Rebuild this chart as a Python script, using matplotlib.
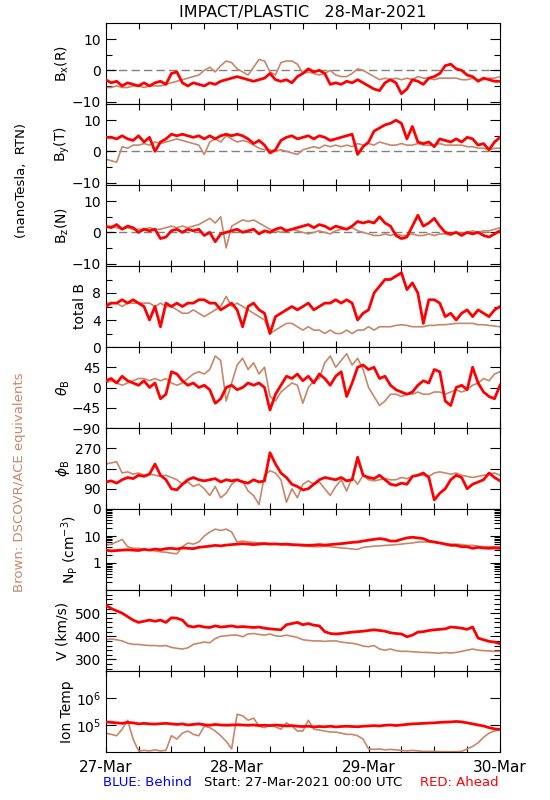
import numpy as np
import matplotlib.pyplot as plt
from matplotlib import ticker

# hourly samples, 27-Mar-2021 00:00 UTC to 30-Mar 00:00 UTC
hours = np.arange(73)
day_labels = ['27-Mar', '28-Mar', '29-Mar', '30-Mar']

# ---- B field components (nT), red = STEREO Ahead, brown = DSCOVR/ACE ----
bx_red = [-3, -4, -3.5, -5, -4, -4.5, -5, -4, -5, -4, -3.5, -4.5, -1, -0.5, -4, -5, -4, -4.5, -5, -4,
          -4.5, -3.5, -3, -2.5, -2, -2.5, -3, -3.5, -3, -2.5, -1, -3, -3.5, -3, -4, -2, -1, 0.5, -0.5, 0,
          -1, -4.5, -4, -4.5, -3.5, -4, -3, -4, -5, -6, -6.5, -4, -3, -4, -7.5, -6, -3, -3.5, -4.5, -2.5,
          -2, -1, 1.5, 2, 0.5, 0, -1.5, -2, -3.5, -2.5, -3, -3.5, -3.5]
bx_brown = [-5.5, -5.5, -5, -5.5, -5.5, -5, -5, -5.5, -5, -5, -5, -4.5, -4, -3.5, -3, -2.5, -2, -1.5, 0, 1,
            -0.5, 1.5, 3, 2.5, 0.5, -0.5, -1.5, 1, 3.5, 3, -0.5, -1.5, 2.5, 3, 3, 2, -1, -0.5, -1, -1.5,
            -1, 0, -1.5, -2, -2, -1, 0.5, 0, -1, -2, -3, -2.5, -3, -2.5, -3, -2.5, -3, -2, -2.5, -2.5,
            -3, -2.5, -2.5, -2.5, -2.5, -3, -3, -2.5, -3, -3, -2.5, -2.5, -2]

by_red = [4.5, 4.5, 4, 5, 4, 3.5, 5, 3, 4.5, 0, 3, 4, 5.5, 5, 5.5, 5, 4.5, 5, 4, 5,
          4, 5, 5.5, 5, 5.5, 5, 4, 2.5, 3.5, 2, -0.5, 0.5, 3.5, 4.5, 5, 4, 4.5, 5, 4, 5,
          4.5, 3.5, 4, 4.5, 5, 5.5, -1, 1.5, 3, 6.5, 7.5, 8.5, 9, 10, 9, 4, 8, 3, 2.5, 3,
          1.5, 4, 3.5, 3, 4, 3, 4.5, 4, 2, 2.5, 0.5, 3, 4.5]
by_brown = [-2.5, -3, -3.5, 1.5, 1, 2, 2, 2.5, 2, 3, 2.5, 3, 3.5, 4, 3.5, 3, 2.5, 2, -1, 3,
            4, 3, 5, 4, 3, 3.5, 3, 2, 1, 0.5, 0.5, 0, 0.5, 0, -0.5, -1, 0.5, 1, 1.5, 1,
            2, 1.5, 2, 1.5, 2, 1.5, 2.5, 2, 2.5, 2, 3, 2.5, 2, 2, 2.5, 2, 2, 2.5, 2, 2,
            2, 2.5, 2, 2, 2, 2, 1.5, 1.5, 1, 1, 0.5, 1, 1]

bz_red = [2, 1.5, 2.5, 1, 2, 1.5, 0, 1, 0.5, 1, -2, -1.5, 0.5, 1, 0, 1, 0.5, 1, -1, 0,
          -3, -0.5, 0, 0.5, 1, 0, 0.5, 1, -0.5, 0.5, 0, 1, 1.5, 0.5, 1, 1.5, 2, 2.5, 1.5, 2.5,
          2, 1, 2, 1.5, 1, 2, 3.5, 3, 3.5, 3, 5, 3, 2, -1, -2, -1.5, 2, 5.5, 2, 3,
          4.5, 2, 0, -0.5, 0, -1, 0, -0.5, 0, -1, -1.5, -0.5, 0.5]
bz_brown = [1.5, 2, 1.5, 1, 1.5, 1, 1, 1, 1.5, 1, 1, 1.5, 2, 1.5, 2, 1.5, 2, 2.5, 3.5, 4.5,
            3, 5, -5, 2, 3, 4, 3.5, 4, 3, 2, 1, 0.5, 0, 0.5, 1, 0.5, 0, -0.5, 0, 0.5,
            0, -0.5, 0.5, 1, 1, 1.5, 0.5, 0, -0.5, -1, -1, -0.5, -1, -0.5, -1, -1, -0.5, -1, -1, -0.5,
            -1, -0.5, -0.5, -1, 0, -0.5, 0, 0.5, 0, 0.5, 0.5, 1, 1.5]

btot_red = [6, 6.5, 6.5, 7, 6.5, 7, 6.5, 6, 4, 6, 3, 6.5, 6, 6.5, 6, 6.5, 6.5, 7, 7, 6.5,
            6.5, 5.5, 6, 6.5, 5.5, 3, 6, 6.5, 5.5, 5, 2, 4.5, 5, 5.5, 6, 5.5, 6, 6.5, 5.5, 6,
            6.5, 6.5, 7, 6.5, 7, 6.5, 4, 5, 5.5, 8, 9, 10, 10, 10.5, 11, 8.5, 9.5, 8, 3.5, 7,
            7, 6.5, 4.5, 5, 4, 5, 5.5, 4.5, 5.5, 5, 4.5, 5.5, 6]
btot_brown = [6.5, 6.5, 6.5, 6, 6.5, 6.5, 6.5, 6.5, 6.5, 6, 6.5, 6, 6, 5.5, 5, 5, 5.5, 5, 4.5, 5,
              5.5, 6, 7.5, 6, 6.5, 6, 5.5, 5, 4.5, 4, 2, 2.5, 3, 3.5, 3.5, 3, 2.5, 3, 2.5, 2.5,
              2, 2.5, 2, 2, 2.5, 2, 2.5, 2.5, 3, 2.5, 3, 3, 3, 3.2, 3.3, 3.2, 3, 3, 3, 3.2,
              3.2, 3.3, 3.3, 3.4, 3.5, 3.5, 3.5, 3.5, 3.3, 3.3, 3.2, 3.1, 3]

# ---- field angles (deg) ----
theta_red = [15, 20, 10, 25, 15, 10, 5, 15, 0, 10, -25, -15, 35, 30, 15, 5, 10, 0, 5, -5,
             -35, -25, 0, 5, -5, 0, 10, 5, 10, 0, -50, -15, 5, 25, 20, 30, 15, 25, 10, 30,
             20, 5, 25, 35, -20, 10, 45, 50, 40, 45, 20, 25, 5, -5, -10, -15, -10, 5, 15, 10,
             40, 35, -30, -40, 0, 5, -5, 45, 10, -10, -20, -25, 5]
theta_brown = [10, 15, 10, 5, 10, 15, 20, 20, 15, 20, 15, 20, 10, 5, 10, 20, 30, 35, 30, 40,
               70, 60, -30, 10, 50, 65, 40, 55, 30, 45, -20, -30, -10, 0, 10, 5, -35, 0, 15, 20,
               55, 70, 45, 60, 75, 50, 65, 40, 0, -20, -40, -30, -15, -15, -20, -15, -15, -10, -15, -15,
               -10, -10, -15, -10, -5, -10, -5, 5, 10, 20, 15, 30, 35]

phi_red = [120, 125, 115, 130, 140, 135, 150, 145, 155, 200, 150, 130, 90, 85, 110, 130, 140, 130, 125, 130,
           135, 120, 130, 125, 130, 120, 115, 130, 120, 125, 250, 200, 160, 140, 110, 100, 85, 90, 110, 130,
           140, 135, 130, 140, 125, 130, 230, 150, 140, 135, 150, 130, 110, 105, 115, 110, 145, 150, 160, 140,
           40, 70, 90, 130, 150, 140, 90, 110, 120, 130, 160, 140, 125]
phi_brown = [200, 205, 210, 160, 165, 155, 160, 150, 155, 150, 145, 150, 140, 130, 110, 120, 100, 110, 90, 60,
             100, 50, 70, 110, 130, 125, 80, 60, 20, 150, 170, 160, 130, 30, 90, 50, 110, 125, 110, 120,
             90, 60, 100, 130, 80, 140, 110, 150, 130, 125, 130, 135, 130, 130, 140, 135, 145, 150, 150, 145,
             160, 165, 160, 155, 160, 150, 145, 140, 145, 150, 155, 160, 150]

# ---- plasma ----
np_red = [3, 2.8, 2.9, 3, 3.1, 3, 2.9, 3.2, 3, 3.3, 3.1, 3.4, 3.5, 3.3, 3.6, 3.5, 3.4, 3.8, 4, 4.2,
          4.5, 4.3, 4.6, 4.8, 5, 5.2, 5, 4.8, 5, 5.2, 5, 5.1, 4.9, 5, 4.8, 4.7, 4.6, 4.5, 4.6, 4.8,
          4.6, 4.8, 5, 5.2, 5.5, 5.8, 6, 6.5, 7, 7.5, 8, 7.5, 6.5, 6.5, 7.5, 8.5, 9, 8.5, 8, 6.5,
          6, 5.5, 5, 4.5, 4.5, 4, 4, 3.5, 3.8, 3.6, 3.5, 3.6, 3.5]
np_brown = [4.5, 5, 6, 7.5, 4, 3.5, 3.5, 3.2, 3, 2.8, 2.6, 2.5, 2.3, 2.2, 4, 5.5, 5, 6, 10, 14,
            18, 16, 18, 14, 6, 6.5, 6, 5.8, 5.5, 5.5, 5.2, 5, 5, 4.8, 4.5, 4.5, 4.3, 4.2, 4, 4,
            4.2, 4, 3.8, 3.6, 3.5, 3.3, 3.2, 3.8, 4, 4.2, 4.3, 4.5, 4.6, 4.8, 5, 5.3, 5.5, 6, 6, 6,
            5.8, 5.5, 5.2, 5, 5, 4.8, 4.5, 4.5, 4.2, 4, 4, 4, 4]

v_red = [535, 520, 510, 500, 485, 470, 460, 465, 470, 465, 470, 460, 480, 478, 470, 445, 440, 445, 440, 438,
         445, 440, 442, 445, 440, 442, 440, 438, 440, 435, 432, 430, 428, 450, 455, 460, 450, 455, 448, 445,
         420, 412, 410, 412, 415, 418, 420, 422, 425, 428, 425, 422, 415, 412, 410, 398, 405, 418, 420, 425,
         428, 430, 432, 440, 438, 435, 430, 440, 392, 385, 378, 375, 368]
v_brown = [385, 388, 385, 380, 370, 365, 365, 362, 360, 360, 358, 360, 352, 348, 345, 350, 365, 370, 375, 372,
           390, 400, 402, 405, 405, 398, 410, 412, 408, 405, 410, 402, 400, 405, 400, 395, 385, 382, 380, 380,
           378, 380, 380, 375, 372, 370, 365, 358, 355, 360, 345, 340, 345, 338, 335, 335, 333, 332, 330, 330,
           328, 327, 330, 328, 330, 335, 340, 345, 340, 338, 337, 335, 335]

# ion temperature, thousands of K
temp_red = [130, 125, 120, 115, 125, 120, 110, 115, 110, 108, 112, 115, 110, 105, 110, 100, 105, 110, 102, 98,
            105, 100, 98, 100, 102, 100, 98, 100, 96, 98, 95, 100, 96, 92, 95, 90, 88, 90, 85, 88,
            86, 90, 85, 88, 90, 88, 86, 90, 92, 95, 92, 98, 100, 96, 100, 105, 110, 112, 115, 118,
            120, 125, 128, 130, 135, 130, 120, 110, 100, 92, 80, 72, 68]
temp_brown = [50, 45, 40, 70, 150, 30, 11, 11.5, 11, 12, 11, 11.5, 40, 30, 50, 60, 45, 40, 90, 80,
              60, 40, 25, 13, 250, 220, 150, 180, 90, 80, 100, 85, 70, 120, 90, 60, 60, 150, 70, 65,
              60, 55, 55, 50, 45, 45, 40, 30, 13, 12.5, 13, 12, 12.5, 12, 11.5, 11, 11.5, 11, 10.5, 10.5,
              10.5, 10.3, 10.3, 10.2, 10.3, 10.5, 13, 16, 22, 35, 50, 60, 70]

RED = '#ff0000'
BROWN = '#c8876a'

plt.rcParams['font.family'] = 'DejaVu Sans'
plt.rcParams['font.size'] = 10

fig = plt.figure(figsize=(5.5, 8), dpi=100)

# panel geometry in pixels (IDL-style stacked plot)
left, right = 105.7, 500.0
top, pan_h = 23.0, 81.0

panels = [
    (bx_red, bx_brown, r'B$_{\rm x}$(R)', 'B'),
    (by_red, by_brown, r'B$_{\rm y}$(T)', 'B'),
    (bz_red, bz_brown, r'B$_{\rm z}$(N)', 'B'),
    (btot_red, btot_brown, 'total B', 'Btot'),
    (theta_red, theta_brown, r'$\theta_{\rm B}$', 'theta'),
    (phi_red, phi_brown, r'$\phi_{\rm B}$', 'phi'),
    (np_red, np_brown, r'N$_{\rm P}$ (cm$^{-3}$)', 'Np'),
    (v_red, v_brown, 'V (km/s)', 'V'),
    (np.array(temp_red) * 1e3, np.array(temp_brown) * 1e3, 'Ion Temp', 'T'),
]
label_x = {'B': 62, 'Btot': 80, 'theta': 63, 'phi': 63, 'Np': 70, 'V': 62, 'T': 67}

axes = []
for i, (red, brown, lab, kind) in enumerate(panels):
    y0 = top + i * pan_h
    ax = fig.add_axes([left / 550, 1 - (y0 + pan_h) / 800, (right - left) / 550, pan_h / 800])
    axes.append(ax)
    if kind in ('Np', 'T'):
        ax.set_yscale('log')
    ax.plot(hours, brown, color=BROWN, lw=1.2, zorder=2)
    ax.plot(hours, red, color=RED, lw=2.0, zorder=3)
    if kind == 'B':
        ax.axhline(0, color='gray', lw=1, ls=(0, (6, 3)), zorder=1)
        ax.set_ylim(-10.8, 15.2)
        ax.set_yticks([-10, 0, 10])
        ax.yaxis.set_minor_locator(ticker.FixedLocator([-5, 5]))
    elif kind == 'Btot':
        ax.set_ylim(0, 12)
        ax.set_yticks([0, 4, 8])
        ax.yaxis.set_minor_locator(ticker.FixedLocator([2, 6, 10]))
    elif kind == 'theta':
        ax.set_ylim(-90, 90)
        ax.set_yticks([-90, -45, 0, 45])
    elif kind == 'phi':
        ax.set_ylim(0, 360)
        ax.set_yticks([0, 90, 180, 270])
    elif kind == 'Np':
        ax.set_ylim(0.1, 100)
        ax.yaxis.set_major_locator(ticker.FixedLocator([1, 10]))
        ax.yaxis.set_major_formatter(ticker.FixedFormatter(['1', '10']))
        ax.yaxis.set_minor_locator(ticker.LogLocator(base=10, subs=np.arange(2, 10), numticks=10))
        ax.yaxis.set_minor_formatter(ticker.NullFormatter())
    elif kind == 'V':
        ax.set_ylim(250, 600)
        ax.set_yticks([300, 400, 500])
        ax.yaxis.set_minor_locator(ticker.MultipleLocator(20))
    elif kind == 'T':
        ax.set_ylim(1e4, 1e7)
        ax.yaxis.set_major_locator(ticker.FixedLocator([1e5, 1e6]))
        ax.yaxis.set_major_formatter(ticker.FixedFormatter([r'10$^5$', r'10$^6$']))
        ax.yaxis.set_minor_locator(ticker.NullLocator())

    ax.set_xlim(0, 72)
    ax.set_xticks([0, 24, 48, 72])
    ax.xaxis.set_minor_locator(ticker.MultipleLocator(6))
    ax.tick_params(which='both', direction='in', top=True, right=True, width=0.8, labelsize=10)
    ax.tick_params(axis='y', which='major', length=7)
    ax.tick_params(axis='y', which='minor', length=4)
    ax.tick_params(axis='x', which='both', length=4)
    for s in ax.spines.values():
        s.set_linewidth(0.8)
    if i < len(panels) - 1:
        ax.set_xticklabels([])
    else:
        ax.set_xticklabels(day_labels, fontsize=11)
        ax.tick_params(axis='x', pad=6)
    fig.text(label_x[kind] / 550, 1 - (y0 + pan_h / 2) / 800, lab, rotation=90,
             ha='center', va='center', fontsize=10)

fig.text(303 / 550, 1 - 12 / 800, 'IMPACT/PLASTIC   28-Mar-2021', ha='center', va='center', fontsize=11.5)
fig.text(22 / 550, 1 - 180 / 800, '(nanoTesla,  RTN)', rotation=90, ha='center', va='center', fontsize=9.5)
fig.text(20 / 550, 1 - 482 / 800, 'Brown: DSCOVR/ACE equivalents', rotation=90, ha='center', va='center',
         fontsize=9.5, color=BROWN)
fig.text(147 / 550, 1 - 783 / 800, 'BLUE: Behind', ha='center', va='center', fontsize=9.5, color='blue')
fig.text(303 / 550, 1 - 783 / 800, 'Start: 27-Mar-2021 00:00 UTC', ha='center', va='center', fontsize=9.5)
fig.text(499 / 550, 1 - 783 / 800, 'RED: Ahead', ha='right', va='center', fontsize=9.5, color=RED)

fig.savefig('out.png', dpi=100)
